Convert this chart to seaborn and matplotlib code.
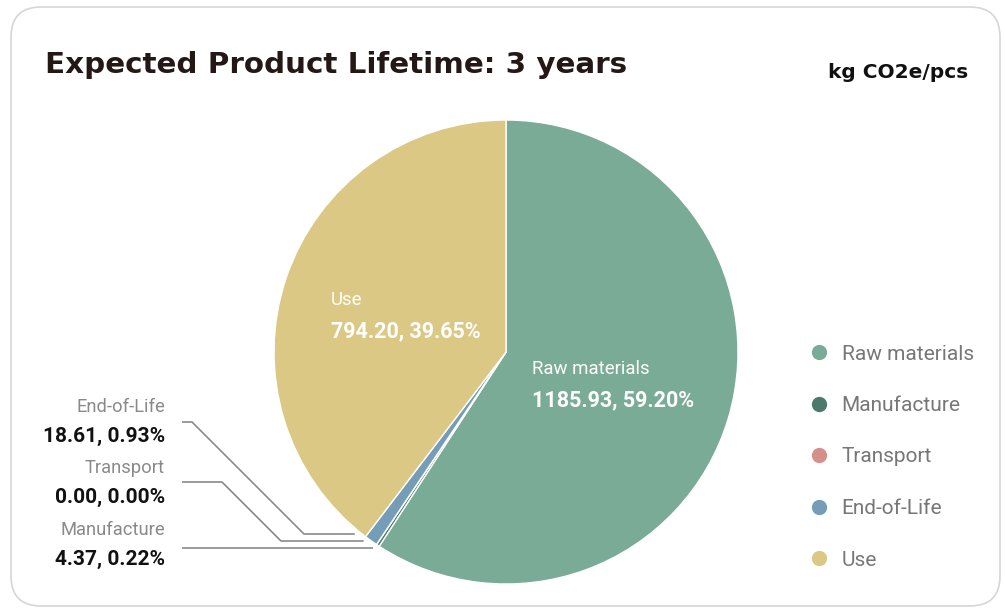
import numpy as np
import seaborn as sns
import matplotlib.pyplot as plt
from matplotlib.lines import Line2D
from matplotlib.patches import FancyBboxPatch

# data
stages = ['Raw materials', 'Manufacture', 'Transport', 'End-of-Life', 'Use']
emissions = [1185.93, 4.37, 0.00, 18.61, 794.20]
shares = [59.20, 0.22, 0.00, 0.93, 39.65]
colors = ['#7aab96', '#4a7a6c', '#d4918c', '#769db8', '#dcc885']

title = 'Expected Product Lifetime: 3 years'
unit_label = 'kg CO2e/pcs'

sns.set_theme(style='white')
plt.rcParams['font.family'] = ['Roboto', 'DejaVu Sans']

W, H = 1005, 608
fig = plt.figure(figsize=(W / 100, H / 100), dpi=100)
ax = fig.add_axes([0, 0, 1, 1])

# card background
card = FancyBboxPatch((11, 2), 989, 599, boxstyle='round,pad=0,rounding_size=30',
                      facecolor='white', edgecolor='#d6d6d6', linewidth=1.2, zorder=0)
ax.add_patch(card)

# pie, clockwise from the top
cx, cy, r = 506, H - 352, 232
wedges, _ = ax.pie(emissions, colors=colors, startangle=90, counterclock=False,
                   center=(cx, cy), radius=r,
                   wedgeprops=dict(edgecolor='white', linewidth=1))
for w in wedges:
    w.set_zorder(2)

ax.set_xlim(0, W)
ax.set_ylim(0, H)
ax.set_aspect('auto')
ax.axis('off')

def fmt(i):
    return f'{emissions[i]:.2f}, {shares[i]:.2f}%'

# inside labels (large slices)
inside = {0: (532, 369), 4: (331, 300)}
for i, (x, y) in inside.items():
    ax.text(x, H - y, stages[i], color='white', fontsize=13.4, va='center', ha='left', zorder=3)
    ax.text(x, H - y - 31, fmt(i), color='white', fontsize=15.5, fontweight='bold',
            va='center', ha='left', zorder=3)

# outside labels (small slices) with leader lines
outside = [3, 2, 1]
name_y = [407, 468, 530]
line_y = [422, 482, 548]
elbow_x = [192, 222, None]
end_y = [534, 541, 548]
for i, ny, ly, ex, ey in zip(outside, name_y, line_y, elbow_x, end_y):
    ax.text(165, H - ny, stages[i], color='#8a8a8a', fontsize=13.2, ha='right', va='center')
    ax.text(165, H - ny - 29, fmt(i), color='#111111', fontsize=15, fontweight='bold',
            ha='right', va='center')
    end_x = cx - np.sqrt((1.02 * r) ** 2 - (ey - 352) ** 2)
    if ex is None:
        xs, ys = [182, end_x], [ly, ey]
    else:
        xs = [182, ex, ex + (ey - ly), end_x]
        ys = [ly, ly, ey, ey]
    ax.plot(xs, [H - v for v in ys], color='#8a8a8a', lw=1.2, zorder=1,
            solid_capstyle='butt')

# titles
ax.text(45, H - 65, title, fontsize=21.2, fontweight='bold', color='#231815',
        family=['DejaVu Sans'], va='center', ha='left')
ax.text(968, H - 72, unit_label, fontsize=14.5, fontweight='bold', color='#111111',
        family=['DejaVu Sans'], va='center', ha='right')

# legend
handles = [Line2D([], [], marker='o', linestyle='', markersize=11, color=c,
                  markeredgewidth=0) for c in colors]
leg = ax.legend(handles, stages, loc='center left', bbox_to_anchor=(800 / W, 1 - 457 / H),
                frameon=False, fontsize=15, labelspacing=1.56, handletextpad=0.6,
                handlelength=1.0, borderaxespad=0)
for t in leg.get_texts():
    t.set_color('#777777')

fig.savefig('out.png', dpi=100)
